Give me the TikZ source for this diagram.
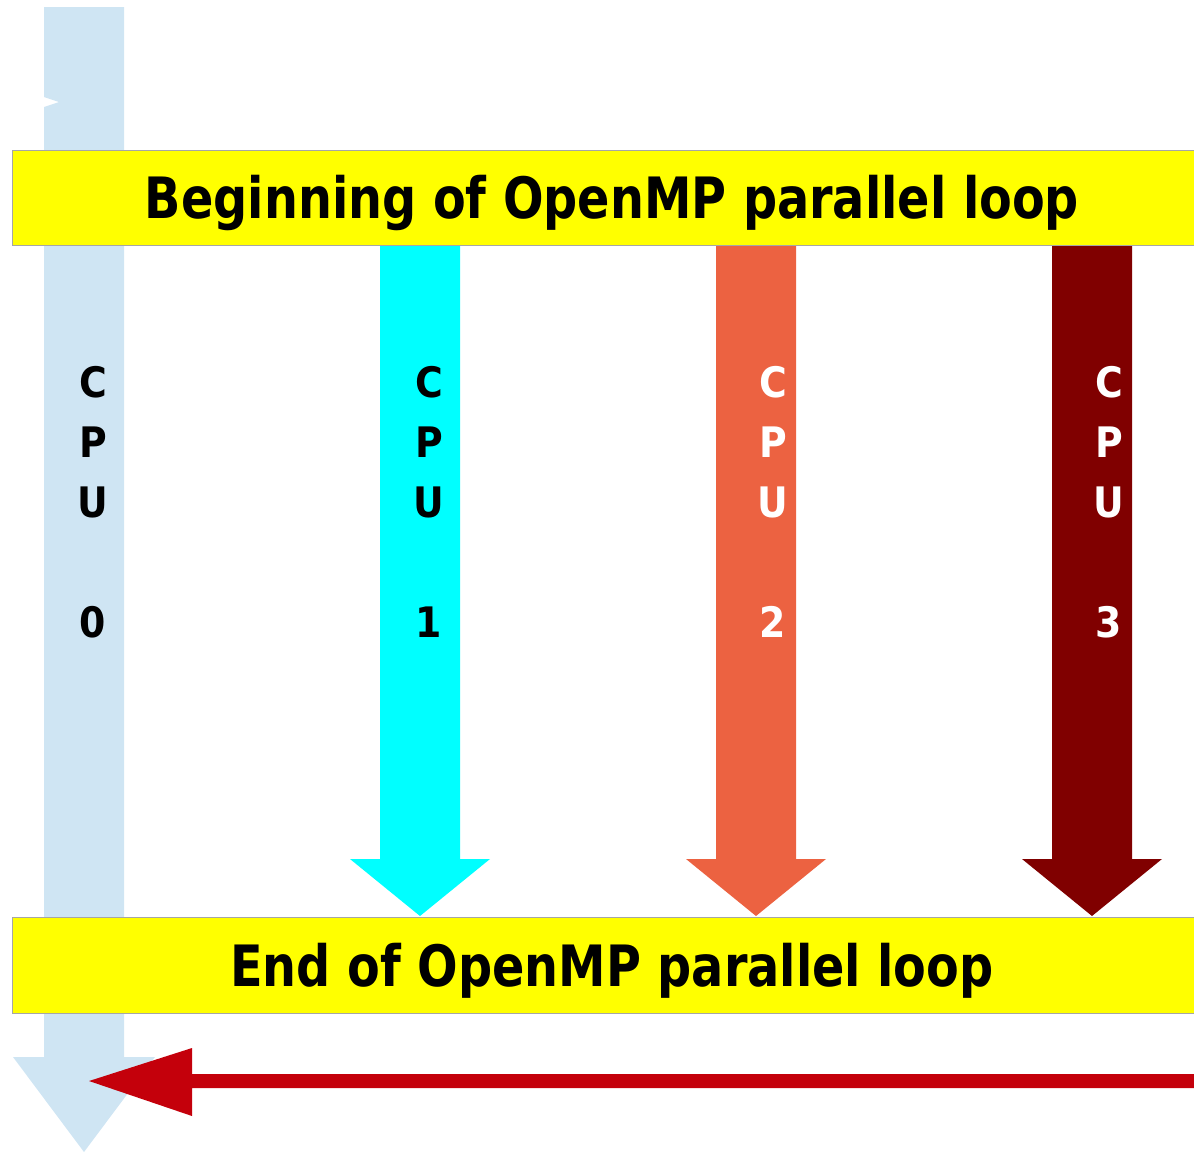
\documentclass[tikz,border=0pt]{standalone}
\usepackage{fontspec}
\setmainfont{DejaVu Sans Condensed}
\begin{document}
\begin{tikzpicture}[x=0.5pt,y=-0.5pt,
  barbox/.style={fill=baryellow, draw=black!35, line width=0.6pt},
  bartext/.style={font=\fontsize{28.5}{32}\selectfont\bfseries, text=black},
  cpulabel/.style={font=\fontsize{21}{24}\selectfont\bfseries, anchor=base, inner sep=0pt}]
\definecolor{baryellow}{HTML}{FFFF00}
\definecolor{mainblue}{HTML}{CFE5F3}
\definecolor{cpucyan}{HTML}{00FFFF}
\definecolor{cpuorange}{HTML}{EC6241}
\definecolor{cpumaroon}{HTML}{800000}
\definecolor{backred}{HTML}{C4000B}
\useasboundingbox (0,0) rectangle (1194,1152);

% master thread: long light-blue arrow with a small notch near the top
\fill[mainblue] (44,7) -- (124,7) -- (124,1057) -- (155,1057) -- (84,1152)
  -- (13,1057) -- (44,1057) -- (44,107) -- (59,102) -- (44,97) -- cycle;

% worker threads
\foreach \cx/\col in {420/cpucyan, 756/cpuorange, 1092/cpumaroon}{
  \fill[\col] (\cx-40,245) -- (\cx+40,245) -- (\cx+40,859) -- (\cx+70,859)
    -- (\cx,916) -- (\cx-70,859) -- (\cx-40,859) -- cycle;
}

% start and end of the parallel region
\node[barbox, minimum width=1184*0.5pt, minimum height=95*0.5pt, anchor=north west,
  inner sep=0pt] (top) at (12,150) {};
\node[bartext] (toptext) at (612,203) {\scalebox{0.93}[1]{Beginning of OpenMP parallel loop}};
\node[barbox, minimum width=1184*0.5pt, minimum height=96*0.5pt, anchor=north west,
  inner sep=0pt] (bottom) at (12,917) {};
\node[bartext] (bottomtext) at (612,971) {\scalebox{0.93}[1]{End of OpenMP parallel loop}};

% vertical CPU labels
\foreach \cx/\tc/\n in {93/black/0, 429/black/1, 773/white/2, 1109/white/3}{
  \node[cpulabel, text=\tc] (c\n) at (\cx,397) {C};
  \node[cpulabel, text=\tc] (p\n) at (\cx,457) {P};
  \node[cpulabel, text=\tc] (u\n) at (\cx,517) {U};
  \node[cpulabel, text=\tc] (d\n) at (\cx,637) {\n};
}

% return to the master thread
\fill[backred] (1194,1074) -- (192,1074) -- (192,1048) -- (89,1081)
  -- (192,1116) -- (192,1088) -- (1194,1088) -- cycle;
\end{tikzpicture}
\end{document}
